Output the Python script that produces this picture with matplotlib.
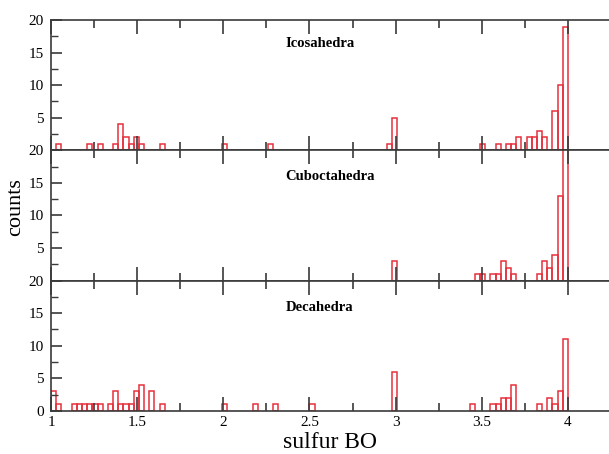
import matplotlib
matplotlib.use("Agg")
import matplotlib.pyplot as plt
from matplotlib.ticker import MultipleLocator

plt.rcParams["font.family"] = ["Liberation Serif", "DejaVu Serif"]

BIN = 0.03

# left edge of each non-empty histogram bin, and its count
ico_bo = [1.03, 1.21, 1.27, 1.36, 1.39, 1.42, 1.45, 1.48, 1.51, 1.63,
          1.99, 2.26, 2.95, 2.98, 3.49, 3.58, 3.64, 3.67, 3.70, 3.76,
          3.79, 3.82, 3.85, 3.91, 3.94, 3.97]
ico_counts = [1, 1, 1, 1, 4, 2, 1, 2, 1, 1,
              1, 1, 1, 5, 1, 1, 1, 1, 2, 2,
              2, 3, 2, 6, 10, 19]

cubo_bo = [2.98, 3.46, 3.49, 3.55, 3.58, 3.61, 3.64, 3.67,
           3.82, 3.85, 3.88, 3.91, 3.94, 3.97]
cubo_counts = [3, 1, 1, 1, 1, 3, 2, 1,
               1, 3, 2, 4, 13, 22]

deca_bo = [1.00, 1.03, 1.12, 1.15, 1.18, 1.21, 1.24, 1.27, 1.33, 1.36,
           1.39, 1.42, 1.45, 1.48, 1.51, 1.57, 1.63, 1.99, 2.17, 2.29,
           2.50, 2.98, 3.43, 3.55, 3.58, 3.61, 3.64, 3.67, 3.82, 3.88,
           3.91, 3.94, 3.97]
deca_counts = [3, 1, 1, 1, 1, 1, 1, 1, 1, 3,
               1, 1, 1, 3, 4, 3, 1, 1, 1, 1,
               1, 6, 1, 1, 1, 2, 2, 4, 1, 2,
               1, 3, 11]

panels = [
    ("Icosahedra", ico_bo, ico_counts, 16.4),
    ("Cuboctahedra", cubo_bo, cubo_counts, 16.0),
    ("Decahedra", deca_bo, deca_counts, 15.8),
]

W, H = 609, 454
fig = plt.figure(figsize=(W / 100, H / 100), dpi=100)

left = 51 / W
ph = 130.3 / H
top = 20 / H
axes = []
for i, (name, bo, counts, ty) in enumerate(panels):
    bottom = 1 - top - (i + 1) * ph
    ax = fig.add_axes([left, bottom, 1 - left, ph])
    ax.bar(bo, counts, width=BIN, align="edge", fill=False,
           edgecolor="#e5303c", linewidth=1.1)
    ax.set_xlim(1, 4.238)
    ax.set_ylim(0, 20)
    ax.spines["right"].set_visible(False)
    for s in ("left", "top", "bottom"):
        ax.spines[s].set_color("#3a3a3a")
        ax.spines[s].set_linewidth(1.2)
    ax.xaxis.set_major_locator(MultipleLocator(0.5))
    ax.xaxis.set_minor_locator(MultipleLocator(0.25))
    ax.yaxis.set_major_locator(MultipleLocator(5))
    ax.yaxis.set_minor_locator(MultipleLocator(2.5))
    ax.tick_params(which="both", direction="in", top=True, right=False,
                   color="#3a3a3a", labelsize=11)
    ax.tick_params(axis="x", which="major", length=10, width=1.2)
    ax.tick_params(axis="x", which="minor", length=6, width=1.2)
    ax.tick_params(axis="y", which="major", length=8, width=1.2, pad=5)
    ax.tick_params(axis="y", which="minor", length=5, width=1.0)
    if i < 2:
        ax.set_yticks([5, 10, 15, 20])
        ax.tick_params(axis="x", labelbottom=False)
    else:
        ax.set_yticks([0, 5, 10, 15, 20])
        ax.set_xticks([1, 1.5, 2, 2.5, 3, 3.5, 4])
        ax.set_xticklabels(["1", "1.5", "2", "2.5", "3", "3.5", "4"])
        ax.tick_params(axis="x", pad=4)
        ax.set_xlabel("sulfur BO", fontsize=17, labelpad=2)
    ax.set_yticks([2.5, 7.5, 12.5, 17.5], minor=True)
    ax.text(2.36, ty, name, fontsize=10.5, fontweight="bold",
            va="center", ha="left")
    axes.append(ax)

fig.text(16 / W, 1 - 207 / H, "counts", rotation=90, fontsize=16,
         ha="center", va="center")

fig.savefig("out.png", dpi=100)
